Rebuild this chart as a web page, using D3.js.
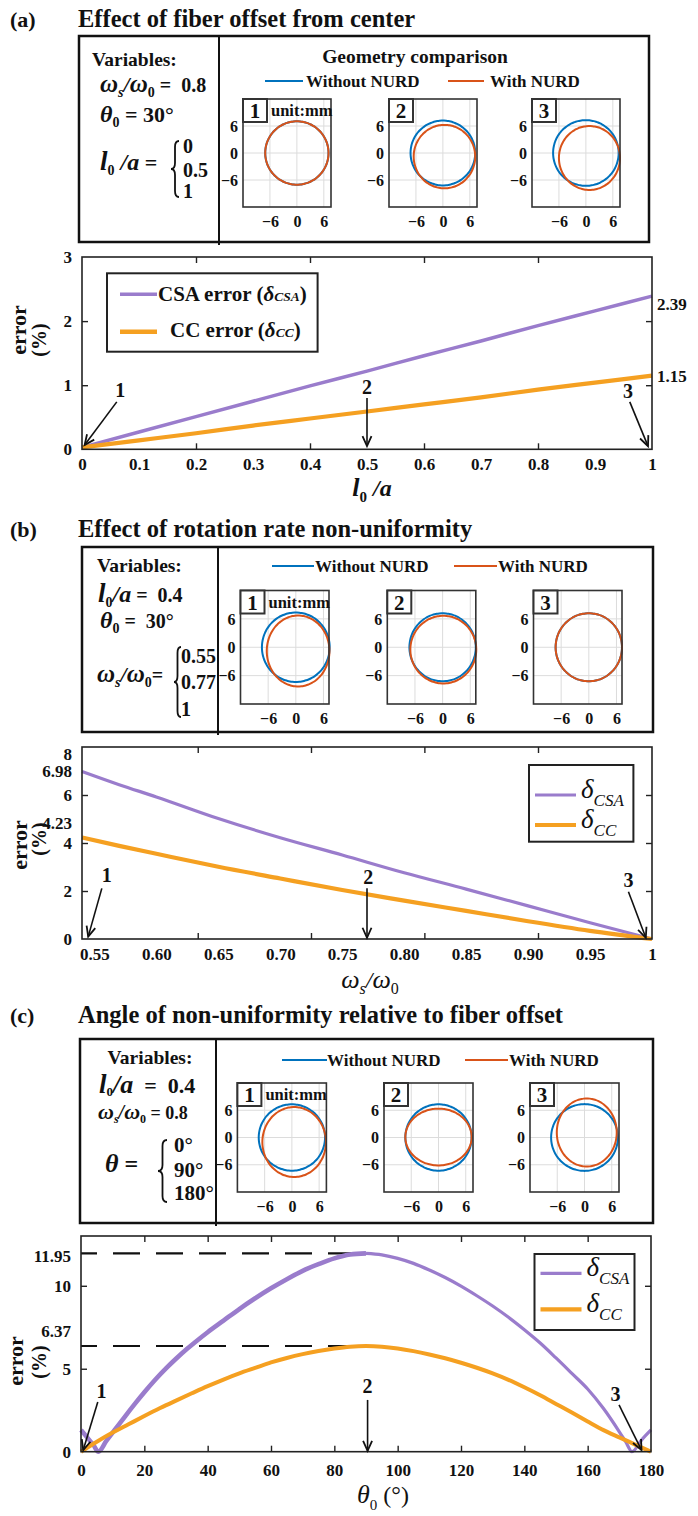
<!DOCTYPE html>
<html><head><meta charset="utf-8">
<script src="https://cdn.jsdelivr.net/npm/d3@7"></script>
<style>
body{margin:0;background:#fff}
svg text{font-family:"Liberation Serif","Times New Roman",serif;white-space:pre}
</style>
</head><body>
<script>
// ================= DATA =================
const panelTags = ["(a)", "(b)", "(c)"];
const panelTitles = ["Effect of fiber offset from center",
  "Effect of rotation rate non-uniformity",
  "Angle of non-uniformity relative to fiber offset"];
const geoLegend = ["Without NURD", "With NURD"];
const subplotTicks = [-6, 0, 6];
const subplotNums = ["1", "2", "3"];

// ellipse params for the geometry insets: [cx, cy, rx, ry, rotationDeg] (mm)
const geomA_blue   = [[0,0,7.05,7.05,0],[0,0,7.2,7.2,0],[0,0,7.3,7.3,0]];
const geomA_orange = [[0,0,7.05,7.05,0],[0.35,-0.8,6.85,7.05,0],[0.8,-1.1,6.8,7.1,0]];
const geomB_blue   = [[0,0,7.35,7.35,0],[0,0,7.2,7.2,0],[0,0,7.2,7.2,0]];
const geomB_orange = [[0.5,-0.8,6.8,7.5,0],[0.15,-0.5,7.15,7.15,0],[0,0,7.2,7.2,0]];
const geomC_blue   = [[0,0,7.3,7.3,0],[0,0,7.3,7.3,0],[0,0,7.35,7.35,0]];
const geomC_orange = [[0.5,-1.0,7.0,7.7,0],[0,0.1,7.3,6.25,0],[0.5,1.1,6.6,7.5,0]];

// chart (a)
const aX   = [0, 0.1, 0.2, 0.3, 0.4, 0.5, 0.6, 0.7, 0.8, 0.9, 1.0];
const aCSA = [0.03, 0.27, 0.51, 0.75, 0.99, 1.22, 1.46, 1.69, 1.93, 2.16, 2.39];
const aCC  = [0.03, 0.14, 0.25, 0.37, 0.48, 0.59, 0.70, 0.81, 0.93, 1.04, 1.15];
const aXLabels = [0, 0.1, 0.2, 0.3, 0.4, 0.5, 0.6, 0.7, 0.8, 0.9, 1];
const aXMarks  = [0.2, 0.4, 0.6, 0.8];
const aYLabels = [0, 1, 2, 3];
const aYMarks  = [1, 2];

// chart (b)
const bX   = [0.54, 0.57, 0.60, 0.65, 0.70, 0.75, 0.80, 0.85, 0.90, 0.95, 1.00];
const bCSA = [6.98, 6.43, 5.92, 5.02, 4.22, 3.50, 2.76, 2.08, 1.38, 0.68, 0.00];
const bCC  = [4.23, 3.88, 3.55, 3.01, 2.52, 2.04, 1.60, 1.17, 0.74, 0.34, 0.00];
const bXLabels = [0.55, 0.60, 0.65, 0.70, 0.75, 0.80, 0.85, 0.90, 0.95, 1];
const bXMarks  = [0.6334, 0.7248, 0.8163, 0.908];
const bYLabels = [0, 2, 4, 6, 8];
const bYMarks  = [2, 4, 6];

// chart (c)
const cCSAx = [0,2,4,5.5,8,11,14,17,20,23.5,27,30,33.5,37,40,45,50,55,60,65,70,75,80,85,90,
               95,100,105,110,115,120,125,130,135,140,145,150,155,160,165,170,172,174,177,180];
const cCSA  = [1.31,0.85,0.38,0,0.65,1.4,2.15,2.88,3.58,4.35,5.05,5.6,6.2,6.75,7.2,7.9,8.6,9.25,9.85,10.4,
               10.9,11.3,11.65,11.88,11.95,11.86,11.65,11.35,10.95,10.5,9.98,9.4,8.78,8.1,7.35,6.55,5.65,4.72,
               3.78,2.6,1.2,0.6,0,0.7,1.31];
const cCCx  = [0,5,10,15,20,25,30,35,40,45,50,55,60,65,70,75,80,85,90,95,100,105,110,115,120,
               125,130,135,140,145,150,155,160,165,170,175,180];
const cCC   = [0,0.6,1.15,1.65,2.15,2.63,3.08,3.52,3.95,4.35,4.72,5.05,5.38,5.65,5.88,6.07,6.22,6.33,6.37,
               6.33,6.22,6.06,5.86,5.63,5.36,5.06,4.72,4.33,3.88,3.4,2.88,2.36,1.82,1.3,0.86,0.43,0];
const cXLabels = [0,20,40,60,80,100,120,140,160,180];
const cXMarks  = [20,40,60,80,100,120,140,160];
const cYLabels = [0,5,10];
const cYMarks  = [5,10];
const cPeaks   = [11.95, 6.37];
const cPeakEnd = [90.7, 91.8];

// arrows: [label, labelX, labelY, startX, startY, tipX, tipY] in data units
const aArrows = [["1",0.067,0.82,0.061,0.74,0.0046,0.067],["2",0.5,0.86,0.5,0.8,0.5,0.05],["3",0.958,0.8,0.961,0.74,0.993,0.05]];
const bArrows = [["1",0.56,2.39,0.556,2.11,0.545,0.1],["2",0.771,2.3,0.77,2.11,0.77,0.05],["3",0.981,2.18,0.981,1.97,0.995,0.05]];
const cArrows = [["1",6.5,3.22,5.3,3.0,0.7,0.1],["2",90.5,3.56,90.5,3.12,90.5,0.05],["3",168.8,3.08,169.9,2.82,177,0.1]];

// ================= DRAWING =================
const COL_BLUE = "#0072BD", COL_RED = "#D95319", COL_PURPLE = "#9a7ccc", COL_ORANGE = "#f5a021";
const svg = d3.select("body").append("svg").attr("width", 698).attr("height", 1516);
svg.append("rect").attr("width", 698).attr("height", 1516).attr("fill", "#fff");

function rich(g, x, y, parts, anchor) {
  const t = g.append("text").attr("x", x).attr("y", y).attr("text-anchor", anchor || "start").attr("fill", "#111");
  let cur = 0;
  parts.forEach(p => {
    const off = p.off || 0;
    t.append("tspan").attr("dy", off - cur).attr("font-size", p.fs)
      .attr("font-weight", p.w || "bold").attr("font-style", p.it ? "italic" : "normal").text(p.t);
    cur = off;
  });
  return t;
}
function brace(g, x, y0, y1, w) {
  const m = (y0 + y1) / 2, r = Math.min(6, (y1 - y0) / 6), h = x + w / 2;
  const p = d3.path();
  p.moveTo(x + w, y0); p.quadraticCurveTo(h, y0, h, y0 + r); p.lineTo(h, m - r);
  p.quadraticCurveTo(h, m, x, m); p.quadraticCurveTo(h, m, h, m + r); p.lineTo(h, y1 - r);
  p.quadraticCurveTo(h, y1, x + w, y1);
  g.append("path").attr("d", p.toString()).attr("fill", "none").attr("stroke", "#111").attr("stroke-width", 1.8);
}

// panel headers
const headerY = [27, 537, 1023];
headerY.forEach((y, i) => {
  rich(svg, 10, y, [{t: panelTags[i], fs: 22}]);
  rich(svg, 78, y, [{t: panelTitles[i], fs: 24.5}]);
});

// ---------- top boxes ----------
const boxes = [
  {x: 79, y: 36, w: 570, h: 206, div: 219},
  {x: 82, y: 547, w: 571, h: 185, div: 218},
  {x: 80, y: 1039, w: 573, h: 184, div: 216}
];
boxes.forEach(b => {
  svg.append("rect").attr("x", b.x).attr("y", b.y).attr("width", b.w).attr("height", b.h)
    .attr("fill", "none").attr("stroke", "#111").attr("stroke-width", 2.5);
  svg.append("line").attr("x1", b.div).attr("x2", b.div).attr("y1", b.y).attr("y2", b.y + b.h + 3)
    .attr("stroke", "#111").attr("stroke-width", 2);
});

// variables text
const vg = svg.append("g");
// (a)
rich(vg, 92, 66, [{t: "Variables:", fs: 19.5}]);
rich(vg, 100, 92, [{t: "ω", fs: 25, it: 1}, {t: "s", fs: 14, it: 1, off: 5}, {t: "/", fs: 22, it: 1}, {t: "ω", fs: 25, it: 1}, {t: "0", fs: 14, off: 5}, {t: " =  0.8", fs: 20}]);
rich(vg, 100, 122, [{t: "θ", fs: 24, it: 1}, {t: "0", fs: 14, off: 5}, {t: " = 30°", fs: 22}]);
rich(vg, 100, 170, [{t: "l", fs: 27, it: 1}, {t: "0", fs: 14, off: 5}, {t: " /a", fs: 24, it: 1}, {t: " =", fs: 22}]);
brace(vg, 171, 141, 197, 8);
[["0", 153], ["0.5", 177], ["1", 198]].forEach(d => rich(vg, 183, d[1], [{t: d[0], fs: 20}]));
// (b)
rich(vg, 97, 572, [{t: "Variables:", fs: 19.5}]);
rich(vg, 98, 602, [{t: "l", fs: 27, it: 1}, {t: "0", fs: 14, off: 5}, {t: "/a", fs: 24, it: 1}, {t: " =  0.4", fs: 20}]);
rich(vg, 100, 628, [{t: "θ", fs: 24, it: 1}, {t: "0", fs: 14, off: 5}, {t: " =  30°", fs: 20}]);
rich(vg, 97, 682, [{t: "ω", fs: 25, it: 1}, {t: "s", fs: 14, it: 1, off: 5}, {t: "/", fs: 22, it: 1}, {t: "ω", fs: 25, it: 1}, {t: "0", fs: 14, off: 5}, {t: "=", fs: 20}]);
brace(vg, 174, 647, 717, 7);
[["0.55", 663], ["0.77", 689], ["1", 716]].forEach(d => rich(vg, 181, d[1], [{t: d[0], fs: 20}]));
// (c)
rich(vg, 150, 1064, [{t: "Variables:", fs: 19.5}], "middle");
rich(vg, 99, 1093, [{t: "l", fs: 27, it: 1}, {t: "0", fs: 13, off: 3}, {t: "/a", fs: 26, it: 1}, {t: "  =  0.4", fs: 22}]);
rich(vg, 98, 1119, [{t: "ω", fs: 22, it: 1}, {t: "s", fs: 12, it: 1, off: 4}, {t: "/", fs: 20, it: 1}, {t: "ω", fs: 22, it: 1}, {t: "0", fs: 12, off: 4}, {t: " = 0.8", fs: 18}]);
rich(vg, 105, 1172, [{t: "θ", fs: 26, it: 1}, {t: " =", fs: 24}]);
brace(vg, 158, 1140, 1202, 9);
[["0°", 1152], ["90°", 1177], ["180°", 1200]].forEach(d => rich(vg, 174, d[1], [{t: d[0], fs: 21}]));

// geometry legends
const geoLeg = [
  {y: 81, b: [265, 303], bt: 306, o: [448, 484], ot: 490},
  {y: 566, b: [272, 314], bt: 315, o: [454, 497], ot: 498},
  {y: 1060, b: [282, 327], bt: 327, o: [465, 508], ot: 509}
];
rich(svg, 415, 63, [{t: "Geometry comparison", fs: 19.5}], "middle");
geoLeg.forEach(L => {
  svg.append("line").attr("x1", L.b[0]).attr("x2", L.b[1]).attr("y1", L.y).attr("y2", L.y).attr("stroke", COL_BLUE).attr("stroke-width", 2);
  svg.append("line").attr("x1", L.o[0]).attr("x2", L.o[1]).attr("y1", L.y).attr("y2", L.y).attr("stroke", COL_RED).attr("stroke-width", 2);
  rich(svg, L.bt, L.y + 5.5, [{t: geoLegend[0], fs: 17}]);
  rich(svg, L.ot, L.y + 6, [{t: geoLegend[1], fs: 17}]);
});

// geometry insets
function insets(lefts, top, w, h, xd, blue, orange) {
  lefts.forEach((left, i) => {
    const g = svg.append("g");
    const sx = d3.scaleLinear().domain(xd).range([left, left + w]);
    const sy = d3.scaleLinear().domain([-12, 12]).range([top + h, top]);
    g.append("rect").attr("x", left).attr("y", top).attr("width", w).attr("height", h).attr("fill", "#fff");
    subplotTicks.forEach(v => {
      g.append("line").attr("x1", sx(v)).attr("x2", sx(v)).attr("y1", top).attr("y2", top + h).attr("stroke", "#dcdcdc").attr("stroke-width", 1);
      g.append("line").attr("x1", left).attr("x2", left + w).attr("y1", sy(v)).attr("y2", sy(v)).attr("stroke", "#dcdcdc").attr("stroke-width", 1);
    });
    const ell = p => d3.range(0, 361, 4).map(a => {
      const t = a * Math.PI / 180, r = p[4] * Math.PI / 180;
      return [p[0] + p[2] * Math.cos(t) * Math.cos(r) - p[3] * Math.sin(t) * Math.sin(r),
              p[1] + p[2] * Math.cos(t) * Math.sin(r) + p[3] * Math.sin(t) * Math.cos(r)];
    });
    const line = d3.line().x(d => sx(d[0])).y(d => sy(d[1])).curve(d3.curveCardinalClosed);
    g.append("path").attr("d", line(ell(blue[i]).slice(0, -1))).attr("fill", "none").attr("stroke", COL_BLUE).attr("stroke-width", 2);
    g.append("path").attr("d", line(ell(orange[i]).slice(0, -1))).attr("fill", "none").attr("stroke", COL_RED).attr("stroke-width", 2);
    g.append("rect").attr("x", left).attr("y", top).attr("width", w).attr("height", h).attr("fill", "none").attr("stroke", "#333").attr("stroke-width", 1.6);
    const xa = g.append("g").attr("transform", `translate(0,${top + h})`).call(d3.axisBottom(sx).tickValues(subplotTicks).tickSize(0).tickPadding(9));
    const ya = g.append("g").attr("transform", `translate(${left},0)`).call(d3.axisLeft(sy).tickValues(subplotTicks).tickSize(0).tickPadding(5));
    [xa, ya].forEach(a => { a.select(".domain").remove(); a.attr("font-family", null); a.selectAll("text").attr("font-size", 16).attr("font-weight", "bold").attr("fill", "#111"); });
    g.append("rect").attr("x", left).attr("y", top).attr("width", 24).attr("height", 23).attr("fill", "#fff").attr("stroke", "#333").attr("stroke-width", 2);
    rich(g, left + 12, top + 19, [{t: subplotNums[i], fs: 21}], "middle");
    if (i === 0) rich(g, left + 28, top + 17, [{t: "unit:mm", fs: 16.5}]);
  });
}
insets([243, 389, 532], 99, 88, 108, [-12, 7.6], geomA_blue, geomA_orange);
insets([240.5, 387.3, 533.5], 590.5, 88.5, 113.5, [-12, 7.2], geomB_blue, geomB_orange);
insets([237.4, 384, 530], 1083, 89, 109, [-12, 7.6], geomC_blue, geomC_orange);

// ---------- line charts ----------
function drawChart(o) {
  const g = svg.append("g");
  const x = d3.scaleLinear().domain(o.xd).range([o.l, o.r]);
  const y = d3.scaleLinear().domain(o.yd).range([o.b, o.t]);
  const clean = s => { s.select(".domain").remove(); s.selectAll(".tick line").attr("stroke", "#222").attr("stroke-width", 1.4); };
  g.append("g").attr("transform", `translate(0,${o.b})`).call(d3.axisBottom(x).tickValues(o.xMarks).tickSize(-6).tickFormat("")).call(clean);
  g.append("g").attr("transform", `translate(0,${o.t})`).call(d3.axisTop(x).tickValues(o.xMarks).tickSize(-6).tickFormat("")).call(clean);
  g.append("g").attr("transform", `translate(${o.l},0)`).call(d3.axisLeft(y).tickValues(o.yMarks).tickSize(-6).tickFormat("")).call(clean);
  g.append("g").attr("transform", `translate(${o.r},0)`).call(d3.axisRight(y).tickValues(o.yMarks).tickSize(-6).tickFormat("")).call(clean);
  const xl = g.append("g").attr("transform", `translate(0,${o.b})`).call(d3.axisBottom(x).tickValues(o.xLabels).tickSize(0).tickPadding(o.xPad).tickFormat(o.xFmt));
  const yl = g.append("g").attr("transform", `translate(${o.l},0)`).call(d3.axisLeft(y).tickValues(o.yLabels).tickSize(0).tickPadding(10).tickFormat(o.yFmt));
  [xl, yl].forEach(a => { a.select(".domain").remove(); a.attr("font-family", null); a.selectAll("text").attr("font-size", 17).attr("font-weight", "bold").attr("fill", "#111"); });
  if (o.yShift) yl.selectAll(".tick text").attr("transform", d => o.yShift[d] ? `translate(0,${o.yShift[d]})` : null);
  // reference dashes
  (o.refs || []).forEach(r => {
    g.append("line").attr("x1", x(o.xd[0])).attr("x2", x(r[1])).attr("y1", y(r[0])).attr("y2", y(r[0]))
      .attr("stroke", "#111").attr("stroke-width", 2.2).attr("stroke-dasharray", "27,16").attr("stroke-dashoffset", 11);
  });
  // series
  o.series.forEach(s => {
    const pts = s.x.map((v, i) => [v, s.y[i]]);
    const ln = d3.line().x(d => x(d[0])).y(d => y(d[1])).curve(d3.curveMonotoneX);
    if (s.split != null) {
      g.append("path").attr("d", ln(pts.filter(d => d[0] <= s.split))).attr("fill", "none").attr("stroke", s.c).attr("stroke-width", s.w2);
      g.append("path").attr("d", ln(pts.filter(d => d[0] >= s.split))).attr("fill", "none").attr("stroke", s.c).attr("stroke-width", s.w);
    } else {
      g.append("path").attr("d", ln(pts)).attr("fill", "none").attr("stroke", s.c).attr("stroke-width", s.w).attr("stroke-linejoin", "round");
    }
  });
  // frame
  g.append("rect").attr("x", o.l).attr("y", o.t).attr("width", o.r - o.l).attr("height", o.b - o.t).attr("fill", "none").attr("stroke", "#222").attr("stroke-width", 1.6);
  // value labels
  (o.vals || []).forEach(v => {
    const side = v[2];
    rich(g, side === "r" ? o.r + 5 : o.l - 10, y(v[0]) + v[3], [{t: v[1], fs: 17}], side === "r" ? "start" : "end");
  });
  // arrows
  o.arrows.forEach(a => {
    rich(g, x(a[1]), y(a[2]), [{t: a[0], fs: 20}], "middle");
    const x0 = x(a[3]), y0 = y(a[4]), x1 = x(a[5]), y1 = y(a[6]);
    g.append("line").attr("x1", x0).attr("y1", y0).attr("x2", x1).attr("y2", y1).attr("stroke", "#111").attr("stroke-width", 1.6);
    const ang = Math.atan2(y1 - y0, x1 - x0), L = 11, sp = 0.42;
    const p = d3.path();
    p.moveTo(x1 - L * Math.cos(ang - sp), y1 - L * Math.sin(ang - sp)); p.lineTo(x1, y1);
    p.lineTo(x1 - L * Math.cos(ang + sp), y1 - L * Math.sin(ang + sp));
    g.append("path").attr("d", p.toString()).attr("fill", "none").attr("stroke", "#111").attr("stroke-width", 1.8);
  });
  // axis titles
  rich(g, 0, 0, [{t: "error", fs: 22}], "middle").attr("transform", `translate(${o.yl[0]},${o.yl[1]}) rotate(-90)`);
  rich(g, 0, 0, [{t: "(%)", fs: 20}], "middle").attr("transform", `translate(${o.yl[2]},${o.yl[3]}) rotate(-90)`);
  rich(g, o.xlab[0], o.xlab[1], o.xlab[2], "middle");
  return {g, x, y};
}

// chart (a)
const A = drawChart({
  xd: [0, 1], yd: [0, 3], l: 82, r: 652, t: 257, b: 449.3,
  xMarks: aXMarks, yMarks: aYMarks, xLabels: aXLabels, yLabels: aYLabels, xPad: 9,
  xFmt: d => (d === 0 || d === 1) ? String(d) : d.toFixed(1), yFmt: d3.format("d"),
  series: [{x: aX, y: aCSA, c: COL_PURPLE, w: 3.5}, {x: aX, y: aCC, c: COL_ORANGE, w: 4.2}],
  vals: [[2.39, "2.39", "r", 14], [1.15, "1.15", "r", 6]],
  arrows: aArrows, yl: [26, 330, 46, 340],
  xlab: [372, 496, [{t: "l", fs: 26, it: 1}, {t: "0", fs: 15, off: 6}, {t: " /a", fs: 24, it: 1, off: 0}]]
});
// legend (a)
{
  const g = A.g;
  g.append("rect").attr("x", 107).attr("y", 273.3).attr("width", 210.6).attr("height", 78.4).attr("fill", "#fff").attr("stroke", "#222").attr("stroke-width", 2);
  g.append("line").attr("x1", 120).attr("x2", 157).attr("y1", 294.3).attr("y2", 294.3).attr("stroke", COL_PURPLE).attr("stroke-width", 3.5);
  g.append("line").attr("x1", 120).attr("x2", 157).attr("y1", 331.7).attr("y2", 331.7).attr("stroke", COL_ORANGE).attr("stroke-width", 4.5);
  rich(g, 158, 300.5, [{t: "CSA error (", fs: 21}, {t: "δ", fs: 21, it: 1}, {t: "CSA", fs: 13.5, it: 1}, {t: ")", fs: 21}]);
  rich(g, 170, 337, [{t: "CC error (", fs: 21}, {t: "δ", fs: 21, it: 1}, {t: "CC", fs: 13.5, it: 1}, {t: ")", fs: 21}]);
}

// chart (b)
const B = drawChart({
  xd: [0.54, 1], yd: [0, 8], l: 82, r: 652, t: 747, b: 939,
  xMarks: bXMarks, yMarks: bYMarks, xLabels: bXLabels, yLabels: bYLabels, xPad: 9,
  xFmt: d => d === 1 ? "1" : d.toFixed(2), yFmt: d3.format("d"), yShift: {8: 7},
  series: [{x: bX, y: bCSA, c: COL_PURPLE, w: 3.2}, {x: bX, y: bCC, c: COL_ORANGE, w: 4.2}],
  vals: [[6.98, "6.98", "l", 5.5], [4.23, "4.23", "l", -8]],
  arrows: bArrows, yl: [27, 845, 46, 839],
  xlab: [370, 988, [{t: "ω", fs: 26, it: 1, w: "normal"}, {t: "s", fs: 16, it: 1, w: "normal", off: 6}, {t: "/", fs: 24, it: 1, w: "normal"}, {t: "ω", fs: 26, it: 1, w: "normal"}, {t: "0", fs: 16, w: "normal", off: 6}]]
});
// chart (c)
const C = drawChart({
  xd: [0, 180], yd: [0, 13], l: 81, r: 651, t: 1236, b: 1451.7,
  xMarks: cXMarks, yMarks: cYMarks, xLabels: cXLabels, yLabels: cYLabels, xPad: 12,
  xFmt: d3.format("d"), yFmt: d3.format("d"),
  refs: cPeaks.map((v, i) => [v, cPeakEnd[i]]),
  series: [{x: cCSAx, y: cCSA, c: COL_PURPLE, w: 3.2, w2: 4.6, split: 90}, {x: cCCx, y: cCC, c: COL_ORANGE, w: 4}],
  vals: [[11.95, "11.95", "l", 9], [6.37, "6.37", "l", -9]],
  arrows: cArrows, yl: [23, 1361, 46, 1362],
  xlab: [383, 1503, [{t: "θ", fs: 26, it: 1, w: "normal"}, {t: "0", fs: 15, w: "normal", off: 7}, {t: " (°)", fs: 24, w: "normal", off: 0}]]
});

function deltaLegend(g, x, y, w, h, items) {
  g.append("rect").attr("x", x).attr("y", y).attr("width", w).attr("height", h).attr("fill", "#fff").attr("stroke", "#222").attr("stroke-width", 2);
  items.forEach(it => {
    g.append("line").attr("x1", x + 6).attr("x2", x + 47).attr("y1", it.y).attr("y2", it.y).attr("stroke", it.c).attr("stroke-width", it.w);
    rich(g, x + 52, it.y + 3, [{t: "δ", fs: 27, it: 1, w: "normal"}, {t: it.sub, fs: 17, it: 1, w: "normal", off: 8}]);
  });
}
deltaLegend(B.g, 529, 765, 104.4, 76.7, [{y: 795, c: COL_PURPLE, w: 3.2, sub: "CSA"}, {y: 825, c: COL_ORANGE, w: 4.2, sub: "CC"}]);
deltaLegend(C.g, 534.5, 1254, 100, 76, [{y: 1273.3, c: COL_PURPLE, w: 3.2, sub: "CSA"}, {y: 1309.3, c: COL_ORANGE, w: 4.2, sub: "CC"}]);
</script>
</body></html>
